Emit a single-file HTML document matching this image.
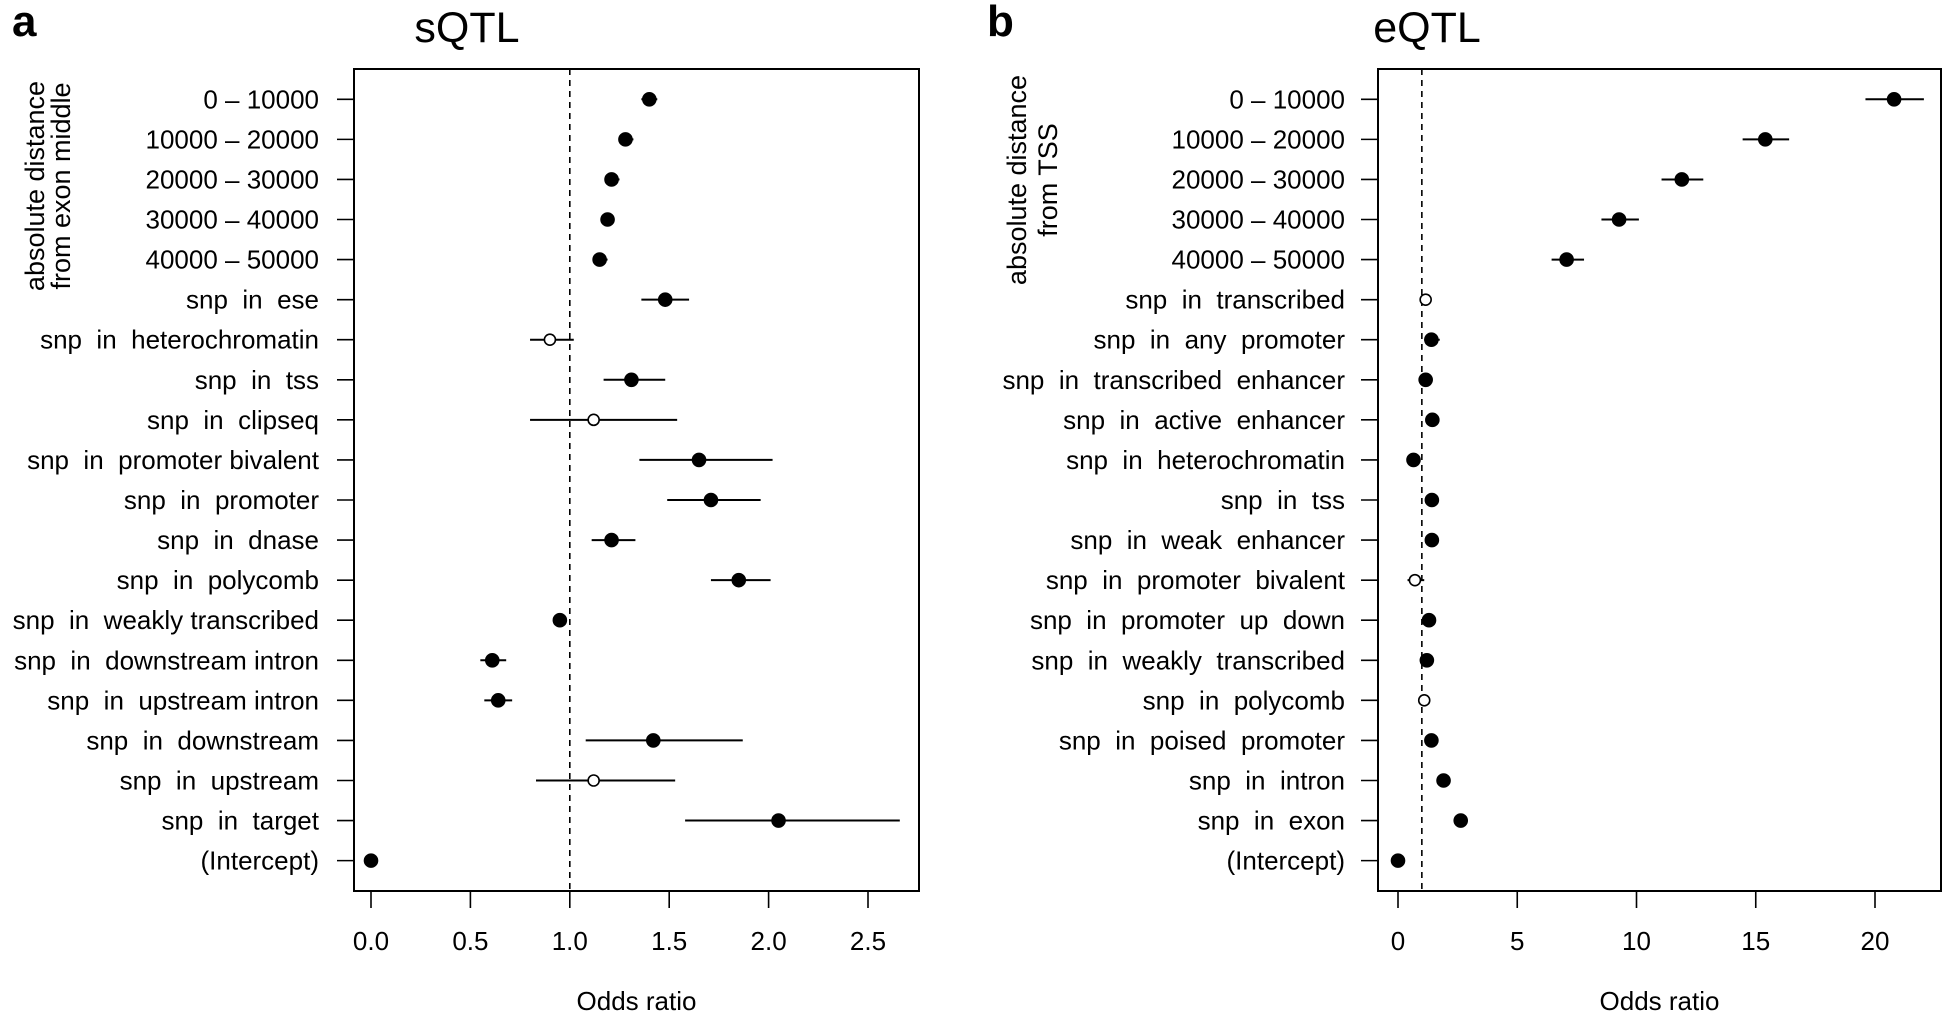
<!DOCTYPE html>
<html><head><meta charset="utf-8"><style>
html,body{margin:0;padding:0;background:#fff;}
svg{display:block;font-family:"Liberation Sans",Arial,sans-serif;}
</style></head><body>
<svg id="chart" width="1946" height="1013" viewBox="0 0 1946 1013" xmlns="http://www.w3.org/2000/svg">
<text x="12" y="36" font-size="44" font-weight="bold">a</text>
<text x="467" y="42" font-size="43" text-anchor="middle">sQTL</text>
<text x="987" y="36" font-size="44" font-weight="bold">b</text>
<text x="1427" y="42" font-size="43" text-anchor="middle">eQTL</text>
<text transform="translate(44,186) rotate(-90)" font-size="27" text-anchor="middle">absolute distance</text>
<text transform="translate(70,186) rotate(-90)" font-size="27" text-anchor="middle">from exon middle</text>
<text transform="translate(1026,180) rotate(-90)" font-size="27" text-anchor="middle">absolute distance</text>
<text transform="translate(1057,180) rotate(-90)" font-size="27" text-anchor="middle">from TSS</text>
<g id="pa"></g>
<g id="pb"></g>
</svg>
<script>
const sLabels = ["0 \u2013 10000","10000 \u2013 20000","20000 \u2013 30000","30000 \u2013 40000","40000 \u2013 50000","snp  in  ese","snp  in  heterochromatin","snp  in  tss","snp  in  clipseq","snp  in  promoter bivalent","snp  in  promoter","snp  in  dnase","snp  in  polycomb","snp  in  weakly transcribed","snp  in  downstream intron","snp  in  upstream intron","snp  in  downstream","snp  in  upstream","snp  in  target","(Intercept)"];
const sEst = [1.40,1.28,1.21,1.19,1.15,1.48,0.90,1.31,1.12,1.65,1.71,1.21,1.85,0.95,0.61,0.64,1.42,1.12,2.05,0.0];
const sLo  = [1.36,1.25,1.18,1.16,1.12,1.36,0.80,1.17,0.80,1.35,1.49,1.11,1.71,0.93,0.55,0.57,1.08,0.83,1.58,0.0];
const sHi  = [1.44,1.32,1.25,1.22,1.19,1.60,1.02,1.48,1.54,2.02,1.96,1.33,2.01,0.98,0.68,0.71,1.87,1.53,2.66,0.0];
const sOpen = [0,0,0,0,0,0,1,0,1,0,0,0,0,0,0,0,0,1,0,0];
const sTicks = [0,0.5,1,1.5,2,2.5];
const sTickLabels = ["0.0","0.5","1.0","1.5","2.0","2.5"];

const eLabels = ["0 \u2013 10000","10000 \u2013 20000","20000 \u2013 30000","30000 \u2013 40000","40000 \u2013 50000","snp  in  transcribed","snp  in  any  promoter","snp  in  transcribed  enhancer","snp  in  active  enhancer","snp  in  heterochromatin","snp  in  tss","snp  in  weak  enhancer","snp  in  promoter  bivalent","snp  in  promoter  up  down","snp  in  weakly  transcribed","snp  in  polycomb","snp  in  poised  promoter","snp  in  intron","snp  in  exon","(Intercept)"];
const eEst = [20.8,15.4,11.9,9.27,7.07,1.16,1.40,1.16,1.44,0.65,1.42,1.42,0.71,1.30,1.21,1.10,1.40,1.91,2.63,0.0];
const eLo  = [19.6,14.45,11.05,8.53,6.44,1.0,1.1,1.05,1.3,0.5,1.3,1.3,0.4,1.2,1.1,0.9,1.3,1.8,2.5,0.0];
const eHi  = [22.05,16.4,12.8,10.1,7.8,1.3,1.75,1.3,1.55,0.8,1.55,1.55,1.1,1.4,1.3,1.3,1.5,2.0,2.75,0.0];
const eOpen = [0,0,0,0,0,1,0,0,0,0,0,0,1,0,0,1,0,0,0,0];
const eTicks = [0,5,10,15,20];
const eTickLabels = ["0","5","10","15","20"];

const NS="http://www.w3.org/2000/svg";
function mk(parent, tag, attrs){const e=document.createElementNS(NS,tag);for(const k in attrs)e.setAttribute(k,attrs[k]);parent.appendChild(e);return e;}

function panel(g, cfg, labels, est, lo, hi, open, ticks, tickLabels){
  const xs = v => cfg.x0 + (v - cfg.v0) * cfg.k;
  const ys = i => 99.3 + i * 40.07;
  const box = mk(g,'rect',{x:cfg.left,y:69,width:cfg.right-cfg.left,height:822,fill:'none',stroke:'#000','stroke-width':2});
  
  
  const ref = mk(g,'line',{x1:xs(1),x2:xs(1),y1:69,y2:891,stroke:'#000','stroke-width':1.6,'stroke-dasharray':'6,5'});
  
  
  for(let i=0;i<labels.length;i++){
    const y=ys(i);
    const t=mk(g,'line',{x1:cfg.left-17,x2:cfg.left,y1:y,y2:y,stroke:'#000','stroke-width':1.6});
    
    
    const tx=mk(g,'text',{x:cfg.labelEnd,y:y+9,'font-size':26,'text-anchor':'end','xml:space':'preserve'});
    tx.style.whiteSpace='pre';
    tx.textContent=labels[i];
    
    
    if(hi[i]>lo[i]){
      const ci=mk(g,'line',{x1:xs(lo[i]),x2:xs(hi[i]),y1:y,y2:y,stroke:'#000','stroke-width':2});
      
      
    }
    const c=mk(g,'circle',{cx:xs(est[i]),cy:y,r:open[i]?5.5:6.5,fill:open[i]?'#fff':'#000',stroke:'#000','stroke-width':1.6});
    
    
  }
  for(let j=0;j<ticks.length;j++){
    const x=xs(ticks[j]);
    const t=mk(g,'line',{x1:x,x2:x,y1:891,y2:908,stroke:'#000','stroke-width':1.6});
    
    
    const tl=mk(g,'text',{x:x,y:950,'font-size':26,'text-anchor':'middle'});
    tl.textContent=tickLabels[j];
    
    
  }
  const ax=mk(g,'line',{x1:xs(ticks[0]),x2:xs(ticks[ticks.length-1]),y1:891,y2:891,stroke:'#000','stroke-width':2});
  
  
  const xt=mk(g,'text',{x:(cfg.left+cfg.right)/2,y:1010,'font-size':26,'text-anchor':'middle'});
  xt.textContent='Odds ratio';
  
  
}
panel(document.getElementById('pa'),{left:354,right:919,labelEnd:319,x0:371,v0:0,k:198.8},sLabels,sEst,sLo,sHi,sOpen,sTicks,sTickLabels);
panel(document.getElementById('pb'),{left:1378,right:1941,labelEnd:1345,x0:1398,v0:0,k:23.85},eLabels,eEst,eLo,eHi,eOpen,eTicks,eTickLabels);
</script>
</body></html>
